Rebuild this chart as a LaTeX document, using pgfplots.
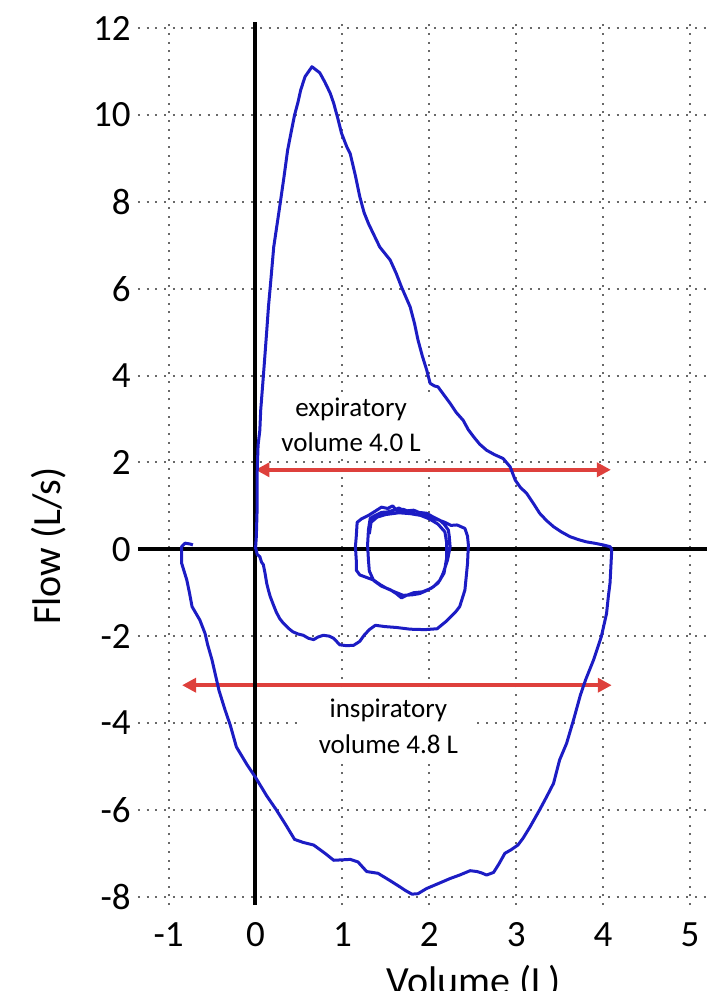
\documentclass[border=0pt]{standalone}
\usepackage{pgfplots}
\pgfplotsset{compat=1.18}
\usepackage{fontspec}
\setmainfont{Carlito}
\usetikzlibrary{arrows.meta}
\definecolor{loopblue}{RGB}{28,28,196}
\definecolor{arrowred}{RGB}{222,64,60}
\definecolor{gridgray}{RGB}{105,105,105}

\begin{document}
\begin{tikzpicture}
\begin{axis}[
  scale only axis, width=284.5pt, height=441.5pt,
  xmin=-1.352, xmax=5.196, ymin=-8.19, ymax=12.14,
  axis line style={draw=none},
  major tick length=0pt,
  xtick={-1,0,1,2,3,4,5}, xticklabels={-1,0,1,2,3,4,5},
  ytick={-8,-6,-4,-2,0,2,4,6,8,10,12}, yticklabels={-8,-6,-4,-2,0,2,4,6,8,10,12},
  grid=major,
  major grid style={draw=gridgray, line width=1pt, dash pattern=on 1pt off 3.35pt},
  tick label style={font=\fontsize{18.5}{21}\selectfont, inner sep=0pt},
  xticklabel style={anchor=north, yshift=-8.5pt},
  yticklabel style={anchor=east, xshift=-3.5pt},
  xlabel={Volume (L)}, ylabel={Flow (L/s)},
  every axis x label/.style={at={(axis description cs:0.589,-0.1008)}, anchor=base, font=\fontsize{20}{24}\selectfont},
  every axis y label/.style={at={(axis description cs:-0.137,0.4066)}, rotate=90, anchor=base, font=\fontsize{20}{24}\selectfont},
]
% text boxes
\node[fill=white, inner xsep=8pt, inner ysep=3pt, align=center, font=\fontsize{13.5}{17.5}\selectfont] at (axis cs:1.10,2.86) {expiratory\\volume 4.0 L};
\node[fill=white, inner xsep=8.5pt, inner ysep=4pt, align=center, font=\fontsize{13.5}{18}\selectfont] at (axis cs:1.53,-4.07) {inspiratory\\volume 4.8 L};

% red arrows
\addplot[arrowred, line width=2.2pt, {Triangle[length=7pt,width=7pt]}-{Triangle[length=7pt,width=7pt]}] coordinates {(0.0,1.83) (4.09,1.83)};
\addplot[arrowred, line width=2.2pt, {Triangle[length=7pt,width=7pt]}-{Triangle[length=7pt,width=7pt]}] coordinates {(-0.845,-3.13) (4.10,-3.13)};

% black axes
\addplot[black, line width=2pt] coordinates {(0,-8.19) (0,12.14)};
\addplot[black, line width=2pt] coordinates {(-1.352,0) (5.196,0)};

% forced loop
\addplot[loopblue, line width=1.5pt, line join=round] coordinates {
(0.0,0.0) (0.01,0.3) (0.02,1.0) (0.02,1.8) (0.03,2.4) (0.05,2.74) (0.06,3.2) (0.09,3.97) (0.11,4.5) (0.13,5.04) (0.15,5.6) (0.17,6.04) (0.21,6.96) (0.25,7.5) (0.29,8.04) (0.33,8.6) (0.37,9.19) (0.41,9.6) (0.45,10.0) (0.49,10.3) (0.52,10.57) (0.57,10.88) (0.65,11.11) (0.74,10.97) (0.80,10.75) (0.86,10.5) (0.90,10.27) (0.95,9.9) (0.99,9.58) (1.05,9.27) (1.09,9.11) (1.15,8.6) (1.20,8.12) (1.25,7.75) (1.30,7.5) (1.36,7.25) (1.43,6.96) (1.55,6.66) (1.62,6.35) (1.68,6.04) (1.78,5.58) (1.83,5.2) (1.87,4.82) (1.92,4.45) (1.97,4.13) (2.01,3.82) (2.06,3.76) (2.10,3.74) (2.17,3.55) (2.24,3.36) (2.31,3.15) (2.39,2.97) (2.45,2.75) (2.51,2.59) (2.58,2.42) (2.66,2.28) (2.75,2.18) (2.85,2.09) (2.93,1.90) (2.99,1.59) (3.05,1.42) (3.12,1.29) (3.20,1.05) (3.27,0.83) (3.35,0.66) (3.43,0.52) (3.52,0.40) (3.62,0.29) (3.72,0.22) (3.81,0.17) (3.90,0.14) (4.00,0.10) (4.08,0.06) (4.10,0.0) (4.09,-0.4) (4.08,-0.78) (4.06,-1.1) (4.04,-1.48) (3.98,-2.01) (3.89,-2.55) (3.80,-3.0) (3.74,-3.35) (3.66,-3.93) (3.58,-4.47) (3.50,-4.85) (3.43,-5.39) (3.35,-5.7) (3.27,-6.00) (3.16,-6.39) (3.08,-6.65) (3.02,-6.81) (2.94,-6.92) (2.87,-7.00) (2.80,-7.25) (2.74,-7.44) (2.66,-7.50) (2.60,-7.45) (2.55,-7.42) (2.47,-7.40) (2.35,-7.50) (2.24,-7.58) (2.10,-7.70) (1.97,-7.81) (1.87,-7.93) (1.80,-7.94) (1.72,-7.85) (1.66,-7.77) (1.55,-7.63) (1.41,-7.46) (1.28,-7.42) (1.18,-7.2) (1.09,-7.14) (1.00,-7.15) (0.90,-7.16) (0.80,-7.0) (0.67,-6.81) (0.55,-6.75) (0.45,-6.68) (0.35,-6.35) (0.24,-6.00) (0.13,-5.68) (0.00,-5.25) (-0.10,-4.95) (-0.22,-4.55) (-0.29,-4.05) (-0.35,-3.7) (-0.42,-3.25) (-0.50,-2.55) (-0.55,-2.2) (-0.58,-1.94) (-0.64,-1.63) (-0.73,-1.32) (-0.76,-1.0) (-0.79,-0.71) (-0.85,-0.32) (-0.85,0.06) (-0.81,0.14) (-0.75,0.12) (-0.72,0.1)
};

% tidal breathing and transition
\addplot[loopblue, line width=1.5pt, line join=round] coordinates {
(0.00,0.05) (0.02,-0.12) (0.05,-0.17) (0.07,-0.30) (0.09,-0.35) (0.11,-0.55) (0.13,-0.79) (0.15,-0.95) (0.17,-1.09) (0.21,-1.30) (0.24,-1.45) (0.28,-1.60) (0.32,-1.70) (0.38,-1.82) (0.43,-1.90) (0.49,-1.95) (0.55,-1.98) (0.61,-2.05) (0.67,-2.08) (0.72,-2.02) (0.78,-1.98) (0.85,-2.00) (0.90,-2.05) (0.97,-2.20) (1.05,-2.22) (1.13,-2.21) (1.20,-2.12) (1.25,-1.98) (1.31,-1.85) (1.38,-1.75) (1.49,-1.78) (1.62,-1.80) (1.78,-1.84) (1.95,-1.85) (2.09,-1.83) (2.20,-1.65) (2.30,-1.45) (2.35,-1.32) (2.41,-0.94) (2.44,-0.33) (2.45,0.10) (2.44,0.30) (2.41,0.48) (2.32,0.56) (2.25,0.55) (2.18,0.62) (2.10,0.68) (2.00,0.75) (1.92,0.78) (1.85,0.88) (1.78,0.86) (1.70,0.92) (1.62,0.90) (1.58,1.00) (1.52,0.94) (1.45,0.97) (1.38,0.88) (1.30,0.78) (1.22,0.70) (1.17,0.62) (1.16,0.30) (1.15,0.06) (1.16,-0.25) (1.16,-0.48) (1.20,-0.59) (1.28,-0.65) (1.36,-0.71) (1.44,-0.82) (1.51,-0.90) (1.60,-0.98) (1.70,-1.06) (1.80,-1.05) (1.89,-1.02) (1.97,-0.95) (2.05,-0.86) (2.12,-0.72) (2.16,-0.55) (2.21,-0.25) (2.24,0.06) (2.23,0.30) (2.22,0.44) (2.17,0.58) (2.12,0.67) (2.03,0.76) (1.97,0.83) (1.88,0.85) (1.82,0.90) (1.72,0.88) (1.65,0.95) (1.59,0.90) (1.52,0.86) (1.45,0.85) (1.38,0.78) (1.32,0.71) (1.30,0.45) (1.29,0.10) (1.30,-0.25) (1.31,-0.50) (1.36,-0.72) (1.45,-0.85) (1.55,-0.93) (1.62,-1.02) (1.68,-1.12) (1.74,-1.06) (1.82,-1.00) (1.92,-0.98) (2.02,-0.90) (2.10,-0.78) (2.17,-0.55) (2.20,-0.20) (2.20,0.15) (2.18,0.40) (2.10,0.58) (2.00,0.70) (1.90,0.78) (1.78,0.82) (1.65,0.84) (1.50,0.80) (1.40,0.74) (1.33,0.62) (1.31,0.35)
};
\end{axis}
\pgfresetboundingbox
\path[use as bounding box] (-69pt,-43pt) rectangle (289.5pt,452.5pt);
\end{tikzpicture}
\end{document}
